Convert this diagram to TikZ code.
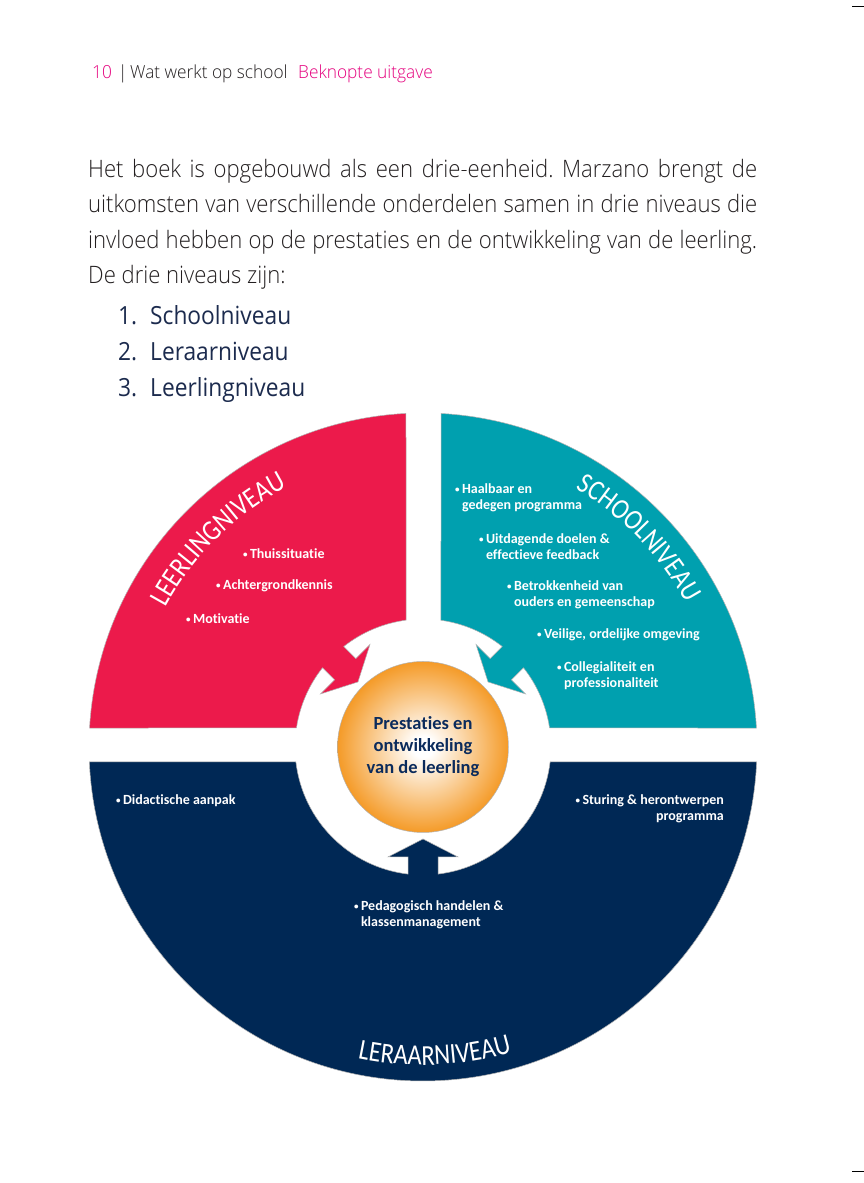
\documentclass[tikz,border=0pt]{standalone}
\usepackage{fontspec}
\usetikzlibrary{decorations.text}
\newfontfamily\bodyfont{Open Sans Light}[FakeStretch=0.92]
\newfontfamily\hdrfont{Open Sans Light}[FakeStretch=0.96]
\newfontfamily\listfont{Open Sans}[FakeStretch=0.91]
\newfontfamily\labfont{Carlito}[Ligatures=NoCommon]
\newfontfamily\titlefont{Carlito}[FakeStretch=0.85]
\definecolor{pinkC}{HTML}{EC1A4B}
\definecolor{tealC}{HTML}{00A0AF}
\definecolor{navyC}{HTML}{002855}
\definecolor{orangeC}{HTML}{F4961E}
\definecolor{magC}{HTML}{E5007E}
\definecolor{bodyC}{HTML}{231F20}
\definecolor{listC}{HTML}{1C2B4E}
\definecolor{ctrC}{HTML}{0B2B5C}
\pgfdeclareradialshading{glow}{\pgfpoint{0bp}{0bp}}{color(0bp)=(white); color(3bp)=(white); color(26bp)=(orangeC); color(50bp)=(orangeC)}
\newcommand\ttlfmt{\titlefont\fontsize{29}{29}\selectfont\color{white}}
\newcommand\bul{\raisebox{1pt}{\fontsize{9}{9}\selectfont\textbullet}\thinspace}
\newcommand\bulsp{\phantom{\bul}}
\frenchspacing
\begin{document}
\begin{tikzpicture}[x=1pt,y=1pt,
  hdr/.style={font=\hdrfont\fontsize{18}{22}\selectfont, inner sep=0pt, text=bodyC},
  bodyline/.style={font=\bodyfont\fontsize{24}{35}\selectfont, inner sep=0pt, text=bodyC, anchor=base west},
  listline/.style={font=\listfont\fontsize{25}{30}\selectfont, inner sep=0pt, text=listC, anchor=base west},
  sector/.style={draw=gray!60, line width=0.5pt},
  item/.style={font=\labfont\bfseries\fontsize{14}{16}\selectfont, text=white, inner sep=0pt, align=left},
  crop/.style={line width=1pt, black}]
\useasboundingbox (0,0) rectangle (864,1183);
\fill[white] (0,0) rectangle (864,1183);

% crop marks
\coordinate (ct1) at (852,1176); \coordinate (ct2) at (864,1176);
\coordinate (cb1) at (852,11); \coordinate (cb2) at (864,11);
\draw[crop] (ct1) -- (ct2);
\draw[crop] (cb1) -- (cb2);

% header
\node[hdr, text=magC, anchor=base west] (pg) at (92,1104) {10};
\node[hdr, anchor=base west] (bar) at (118,1104) {|};
\node[hdr, anchor=base west] (ttl) at (130,1104) {Wat werkt op school};
\node[hdr, text=magC, anchor=base west] (sub) at (298,1104) {Beknopte uitgave};

% body text
\node[bodyline] (l1) at (88,1005) {\makebox[669pt][s]{Het boek is opgebouwd als een drie-eenheid. Marzano brengt de}};
\node[bodyline] (l2) at (88,970) {\makebox[669pt][s]{uitkomsten van verschillende onderdelen samen in drie niveaus die}};
\node[bodyline] (l3) at (88,934) {\makebox[669pt][s]{invloed hebben op de prestaties en de ontwikkeling van de leerling.}};
\node[bodyline] (l4) at (88,899) {De drie niveaus zijn:};

\node[listline] (n1) at (118,858) {1.};
\node[listline] (t1) at (150,858) {Schoolniveau};
\node[listline] (n2) at (118,822) {2.};
\node[listline] (t2) at (150,822) {Leraarniveau};
\node[listline] (n3) at (118,786) {3.};
\node[listline] (t3) at (150,786) {Leerlingniveau};

% diagram
\begin{scope}[shift={(423,436)}]
  % Leerlingniveau (pink)
  \fill[pinkC, sector] (92.92:334) arc[start angle=92.92, end angle=176.74, radius=334]
    -- (171.46:128) arc[start angle=171.46, end angle=141.73, radius=128]
    -- (-88.39,67.18) -- (-102.53,53.03) -- (-65.05,65.05) -- (-53.03,102.53) -- (-67.18,88.39)
    -- (128.27:128) arc[start angle=128.27, end angle=97.63, radius=128] -- cycle;
  % Schoolniveau (teal)
  \fill[tealC, sector] (86.91:334) arc[start angle=86.91, end angle=3.26, radius=334]
    -- (8.54:128) arc[start angle=8.54, end angle=38.27, radius=128]
    -- (88.39,67.18) -- (102.53,53.03) -- (65.05,65.05) -- (53.03,102.53) -- (67.18,88.39)
    -- (51.73:128) arc[start angle=51.73, end angle=81.92, radius=128] -- cycle;
  % Leraarniveau (navy)
  \fill[navyC, sector] (182.57:334) arc[start angle=182.57, end angle=357.43, radius=334]
    -- (353.27:128) arc[start angle=353.27, end angle=276.73, radius=128]
    -- (15,-110) -- (35,-110) -- (0,-92) -- (-35,-110) -- (-15,-110)
    -- (263.27:128) arc[start angle=263.27, end angle=186.73, radius=128] -- cycle;

  % centre
  \node[circle, minimum size=171pt, inner sep=0pt, shading=glow, draw=gray!60, line width=0.5pt,
        align=center, text=ctrC, font=\labfont\bfseries\fontsize{18.5}{22}\selectfont] (core) at (0,0)
        {Prestaties en\\ontwikkeling\\van de leerling};

  % curved titles
  \path[decorate, decoration={text along path, text align=center, text={|\ttlfmt|LEERLINGNIVEAU}}]
    (175:293) arc[start angle=175, end angle=94.2, radius=293];
  \path[decorate, decoration={text along path, text align=center, text={|\ttlfmt|SCHOOLNIVEAU}}]
    (85:300) arc[start angle=85, end angle=3.1, radius=300];
  \path[decorate, decoration={text along path, text align=center, text={|\ttlfmt|LERAARNIVEAU}}]
    (242.2:318) arc[start angle=242.2, end angle=302.2, radius=318];
\end{scope}

% items pink
\node[item, anchor=west] (p1) at (243,629) {\bul Thuissituatie};
\node[item, anchor=west] (p2) at (216,597) {\bul Achtergrondkennis};
\node[item, anchor=west] (p3) at (186,564) {\bul Motivatie};

% items teal
\node[item, anchor=west] (s1) at (455,685) {\bul Haalbaar en\\\bulsp gedegen programma};
\node[item, anchor=west] (s2) at (479,636.5) {\bul Uitdagende doelen \&\\\bulsp effectieve feedback};
\node[item, anchor=west] (s3) at (507,588) {\bul Betrokkenheid van\\\bulsp ouders en gemeenschap};
\node[item, anchor=west] (s4) at (537,548) {\bul Veilige, ordelijke omgeving};
\node[item, anchor=west] (s5) at (557,507.5) {\bul Collegialiteit en\\\bulsp professionaliteit};

% items navy
\node[item, anchor=west] (d1) at (116,382) {\bul Didactische aanpak};
\node[item, anchor=east, align=right] (d2) at (724,374) {\bul Sturing \& herontwerpen\\programma};
\node[item, anchor=west] (d3) at (354,268) {\bul Pedagogisch handelen \&\\\bulsp klassenmanagement};
\end{tikzpicture}
\end{document}
